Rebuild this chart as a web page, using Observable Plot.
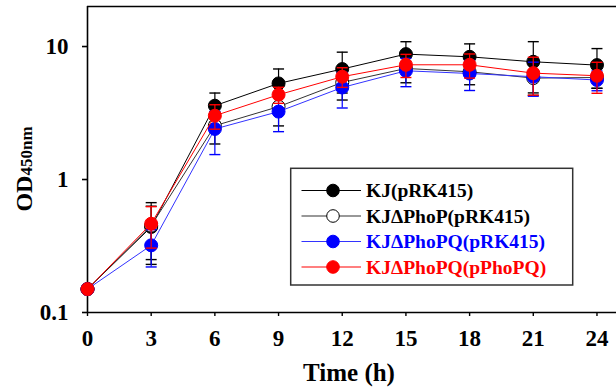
<!DOCTYPE html>
<html><head><meta charset="utf-8">
<script src="https://cdn.jsdelivr.net/npm/d3@7"></script>
<script src="https://cdn.jsdelivr.net/npm/@observablehq/plot@0.6"></script>
<style>body{margin:0;background:#fff} #chart{width:616px;height:389px}</style>
</head><body><div id="chart"></div>
<script>
// ---- data ----
const time = [0, 3, 6, 9, 12, 15, 18, 21, 24];
const seriesNames = ["KJ(pRK415)", "KJΔPhoP(pRK415)", "KJΔPhoPQ(pRK415)", "KJΔPhoPQ(pPhoPQ)"];
const kjValues      = [0.15, 0.44, 3.59, 5.28, 6.77, 8.77, 8.37, 7.68, 7.25];
const kjErrors      = [0, 0.19, 0.88, 1.5, 2.3, 2.1, 2.1, 3.2, 2.4];
const phoPValues    = [0.15, 0.45, 2.54, 3.53, 5.37, 6.84, 6.46, 5.79, 5.85];
const phoPErrors    = [0, 0.22, 0.69, 1.0, 1.41, 1.5, 1.3, 1.5, 1.0];
const phoPQValues   = [0.15, 0.32, 2.40, 3.24, 4.92, 6.57, 6.27, 5.93, 5.60];
const phoPQErrors   = [0, 0.10, 0.86, 0.95, 1.47, 1.58, 1.6, 1.7, 0.95];
const pPhoPQValues  = [0.15, 0.465, 3.02, 4.34, 5.93, 7.29, 7.29, 6.31, 6.03];
const pPhoPQErrors  = [0, 0.16, 0.63, 0.6, 1.0, 1.44, 1.5, 2.0, 1.58];
const yTicks = [0.1, 1, 10];
const yTickLabels = ["0.1", "1", "10"];
const xTicks = [0, 3, 6, 9, 12, 15, 18, 21, 24];
const xTitle = "Time (h)";
const yTitleMain = "OD";
const yTitleSub = "450nm";

const FONT = "'Liberation Serif', 'Times New Roman', serif";
const values = [kjValues, phoPValues, phoPQValues, pPhoPQValues];
const errors = [kjErrors, phoPErrors, phoPQErrors, pPhoPQErrors];
const looks = [
  {stroke: "#000000", fill: "#000000", line: "#000000", text: "#000000"},
  {stroke: "#000000", fill: "#ffffff", line: "#333333", text: "#000000"},
  {stroke: "#0000ff", fill: "#0000ff", line: "#3333ff", text: "#0000ff"},
  {stroke: "#ff0000", fill: "#ff0000", line: "#ff0000", text: "#ff0000"}
];

const rows = [];
seriesNames.forEach((name, i) => time.forEach((t, j) => rows.push({series: name, si: i, t, v: values[i][j], e: errors[i][j]})));

const capSymbol = {draw(ctx) { ctx.moveTo(-5.5, 0); ctx.lineTo(5.5, 0); }};

const marks = [
  Plot.ruleY([20], {stroke: "#000", strokeWidth: 1.6}),
  Plot.ruleY([0.1], {stroke: "#000", strokeWidth: 1.6}),
  Plot.ruleX([0], {stroke: "#000", strokeWidth: 1.6}),
  Plot.axisY({ticks: yTicks, tickFormat: d => yTickLabels[yTicks.indexOf(d)], tickSize: 5, tickPadding: 14, strokeWidth: 1.6, label: null, fontSize: 23}),
  Plot.axisX({ticks: xTicks, tickSize: 4, tickPadding: 13, strokeWidth: 1.4, label: null, fontSize: 23})
];

seriesNames.forEach((name, i) => {
  const d = rows.filter(r => r.si === i);
  const de = d.filter(r => r.e > 0);
  const c = looks[i];
  marks.push(Plot.line(d, {x: "t", y: "v", stroke: c.line, strokeWidth: 1}));
  marks.push(Plot.ruleX(de, {x: "t", y1: r => r.v - r.e, y2: r => r.v + r.e, stroke: c.stroke, strokeWidth: 1.2}));
  marks.push(Plot.dot(de, {x: "t", y: r => r.v + r.e, symbol: capSymbol, stroke: c.stroke, fill: "none", strokeWidth: 1.4}));
  marks.push(Plot.dot(de, {x: "t", y: r => r.v - r.e, symbol: capSymbol, stroke: c.stroke, fill: "none", strokeWidth: 1.4}));
  marks.push(Plot.dot(d, {x: "t", y: "v", r: 6.5, fill: c.fill, stroke: c.stroke, strokeWidth: 1}));
});

const plot = Plot.plot({
  width: 616,
  height: 389,
  marginTop: 6,
  marginBottom: 77,
  marginLeft: 87,
  marginRight: 0,
  x: {domain: [0, 24.92]},
  y: {type: "log", domain: [0.1, 20]},
  style: {fontFamily: FONT, fontWeight: "bold", fontSize: "23px", background: "white", color: "black"},
  marks
});

const svg = d3.select(plot);
// legend
const lg = svg.append("g").style("font-size", "19.5px").style("font-weight", "bold").style("font-family", FONT);
lg.append("rect").attr("x", 290.7).attr("y", 168.3).attr("width", 282).attr("height", 116.7)
  .attr("fill", "white").attr("stroke", "#333").attr("stroke-width", 1.5);
seriesNames.forEach((name, i) => {
  const y = 190.5 + i * 25.5;
  const c = looks[i];
  lg.append("line").attr("x1", 301.5).attr("x2", 361).attr("y1", y).attr("y2", y).attr("stroke", c.line).attr("stroke-width", 1.2);
  lg.append("circle").attr("cx", 333).attr("cy", y).attr("r", 6.3).attr("fill", c.fill).attr("stroke", c.stroke).attr("stroke-width", 1);
  lg.append("text").attr("x", 366).attr("y", y).attr("dy", "0.35em").attr("text-anchor", "start")
    .style("font-family", FONT).style("font-weight", "bold").style("font-size", "19.5px").attr("fill", c.text).text(name);
});
// axis titles
svg.append("text").attr("x", 349).attr("y", 381).attr("text-anchor", "middle").style("font-family", FONT)
  .style("font-size", "25px").style("font-weight", "bold").text(xTitle);
const yt = svg.append("text").attr("transform", "translate(32,169) rotate(-90)").attr("text-anchor", "middle")
  .style("font-weight", "bold").style("font-family", FONT);
yt.append("tspan").style("font-size", "24px").text(yTitleMain);
yt.append("tspan").style("font-size", "17px").text(yTitleSub);

document.getElementById("chart").appendChild(plot);
</script>
</body></html>
